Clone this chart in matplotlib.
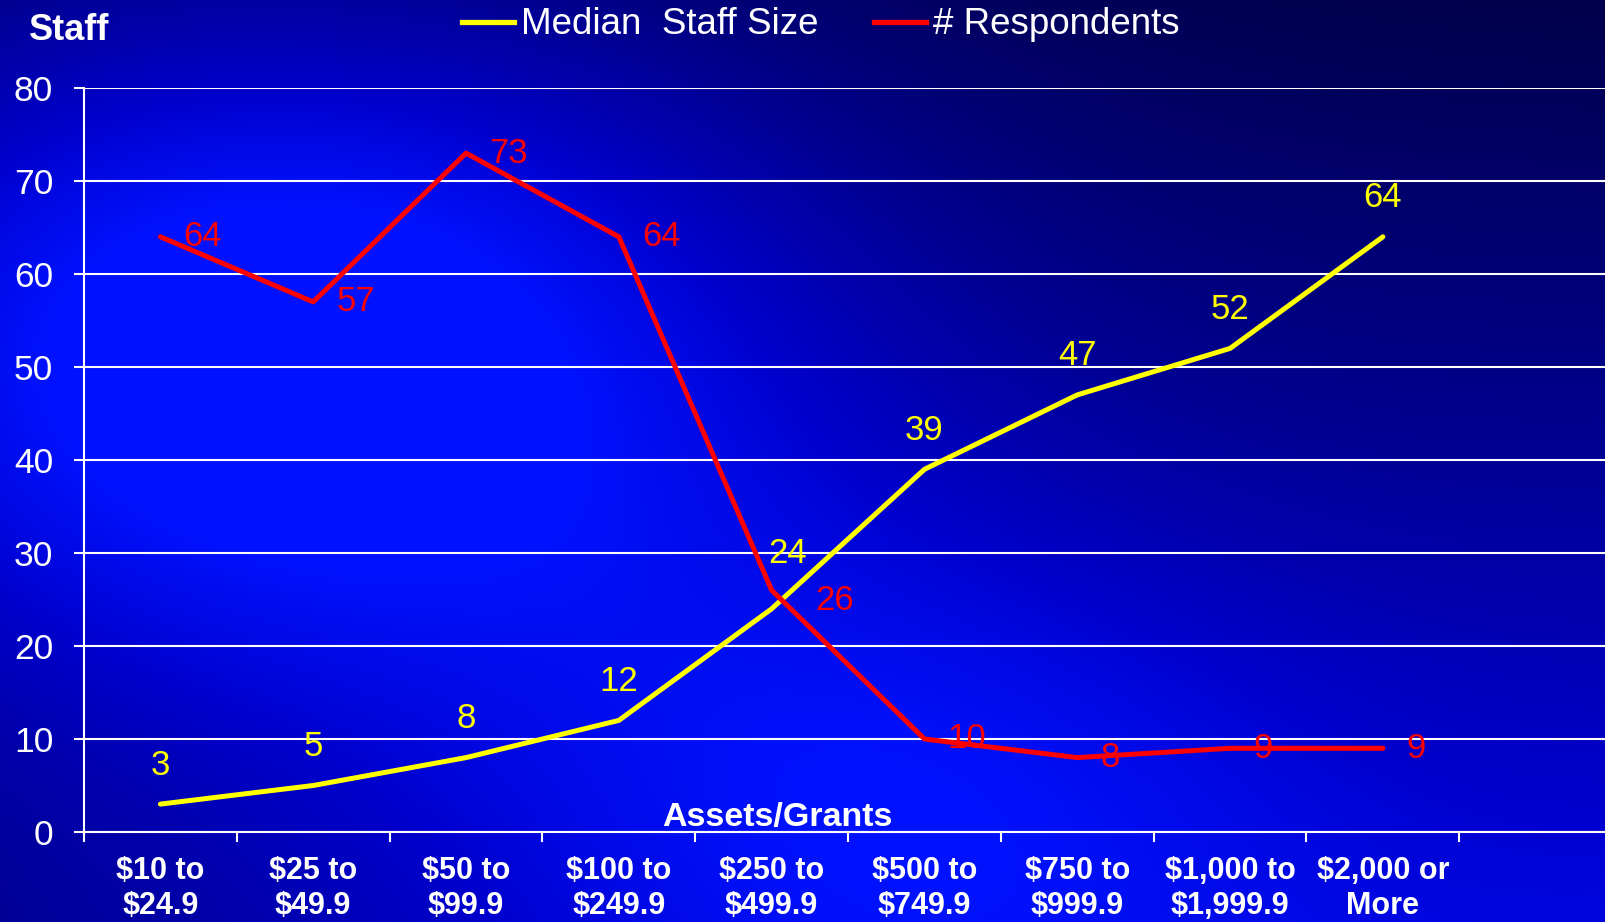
import numpy as np
import matplotlib
matplotlib.use('Agg')
import matplotlib.pyplot as plt
from matplotlib.lines import Line2D

plt.rcParams['font.family'] = ['Liberation Sans', 'DejaVu Sans']
plt.rcParams['text.parse_math'] = False

# Donnees du graphique
categories = ['$10 to\n$24.9', '$25 to\n$49.9', '$50 to\n$99.9', '$100 to\n$249.9',
              '$250 to\n$499.9', '$500 to\n$749.9', '$750 to\n$999.9',
              '$1,000 to\n$1,999.9', '$2,000 or\nMore']
median_staff = [3, 5, 8, 12, 24, 39, 47, 52, 64]
respondents = [64, 57, 73, 64, 26, 10, 8, 9, 9]

W, H = 1606, 922
fig = plt.figure(figsize=(W / 100, H / 100), dpi=100)

# Fond degrade (bleu vif a gauche, bleu nuit en haut a droite)
bg = fig.add_axes([0, 0, 1, 1], zorder=0)
yy, xx = np.mgrid[0:H, 0:W]
xn, yn = xx / W, yy / H
v = 0.36 - 0.065 * xn + 0.19 * yn + 0.37 * xn * yn
v += 0.68 * np.exp(-(((xx - 280) / 540.0) ** 2 + ((yy - 340) / 360.0) ** 2))
v += 0.30 * np.exp(-(((xx - 880) / 450.0) ** 2 + ((yy - 800) / 300.0) ** 2))
v = np.clip(v, 0, 1)
g = 0.07 * np.clip((v - 0.8) / 0.2, 0, 1)
img = np.dstack([np.zeros_like(v), g, v])
bg.imshow(img, aspect='auto', extent=[0, W, H, 0])
bg.axis('off')

ax = fig.add_axes([84 / W, 1 - 832 / H, 1 - 84 / W, (832 - 88) / H], zorder=1)
ax.patch.set_alpha(0)

x = np.arange(len(categories))
ax.plot(x, median_staff, color='#FFFF00', lw=3.6, solid_capstyle='round', zorder=3)
ax.plot(x, respondents, color='#FF0000', lw=3.6, solid_capstyle='round', zorder=3)

ax.set_xlim(-0.5, 9.46)
ax.set_ylim(0, 80)
ax.set_yticks(range(0, 81, 10))
ax.set_xticks(np.arange(-0.5, 9.5, 1), minor=False)
ax.set_xticklabels([])
ax.set_xticks(x, minor=True)
ax.set_xticklabels(categories, minor=True, fontweight='bold', fontsize=22,
                   color='white', linespacing=1.22)
ax.tick_params(axis='x', which='minor', length=0, pad=17)
ax.tick_params(axis='x', which='major', length=7.2, width=1.5, color='white', direction='out')
ax.tick_params(axis='y', length=7.2, width=1.5, color='white', labelsize=25.5,
               labelcolor='white', pad=15)
ax.grid(axis='y', color='white', lw=1.5)
for s in ['top', 'right']:
    ax.spines[s].set_visible(False)
for s in ['left', 'bottom']:
    ax.spines[s].set_color('white')
    ax.spines[s].set_linewidth(1.5)

# Etiquettes des valeurs
for i, v_ in enumerate(median_staff):
    dx, dy = (16, 55) if i == 4 else (0, 39)
    ax.annotate(str(v_), (i, v_), xytext=(dx, dy), textcoords='offset pixels',
                ha='center', va='center', color='#FFFF00', fontsize=25)
for i, v_ in enumerate(respondents):
    dx, dy = (44, -10) if i == 4 else (23, 0)
    ax.annotate(str(v_), (i, v_), xytext=(dx, dy), textcoords='offset pixels',
                ha='left', va='center', color='#FF0000', fontsize=25)

ax.text(4.04, 0.65, 'Assets/Grants', ha='center', va='baseline', color='white',
        fontsize=24.5, fontweight='bold')
fig.text(69 / W, 1 - 31 / H, 'Staff', ha='center', va='center', color='white',
         fontsize=26, fontweight='bold')

handles = [Line2D([], [], color='#FFFF00', lw=3.8),
           Line2D([], [], color='#FF0000', lw=3.8)]
fig.legend(handles, ['Median  Staff Size', '# Respondents'], loc='center',
           bbox_to_anchor=(821 / W, 1 - 25 / H), ncol=2, frameon=False,
           fontsize=26.5, labelcolor='white', handlelength=1.4, handletextpad=0.2,
           columnspacing=1.5, borderpad=0, borderaxespad=0)

fig.savefig('out.png', dpi=100)
